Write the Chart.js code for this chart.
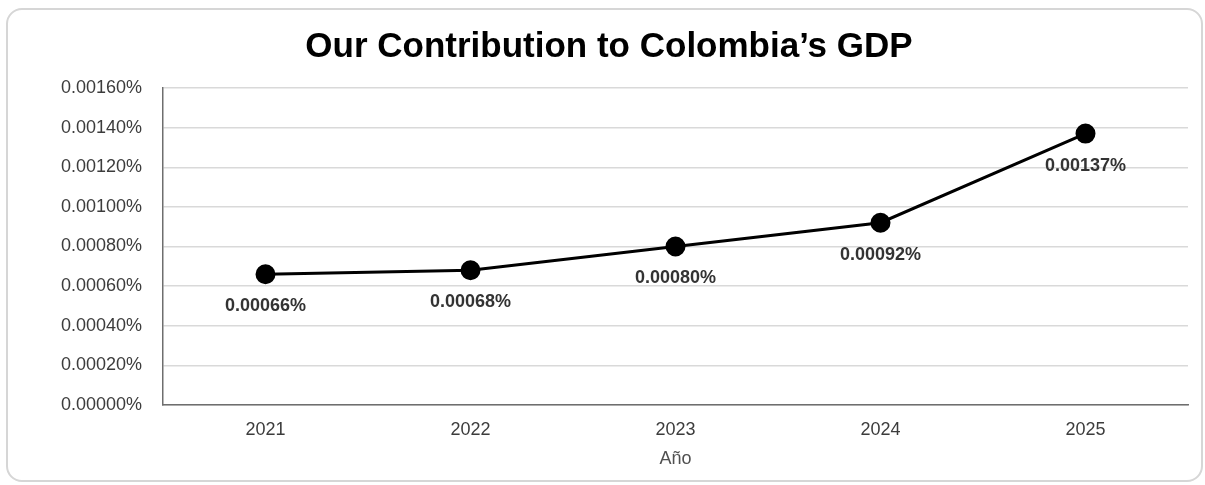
<!DOCTYPE html>
<html>
<head>
<meta charset="utf-8">
<script src="https://cdn.jsdelivr.net/npm/chart.js@4"></script>
<style>
  html, body { margin: 0; padding: 0; background: #ffffff; }
  #wrap { position: relative; width: 1205px; height: 485px; overflow: hidden; }
  #card { position: absolute; left: 6px; top: 8px; width: 1197px; height: 474px; box-sizing: border-box;
          border: 2px solid #d6d6d6; border-radius: 16px; background: #fff; }
  #c { position: absolute; left: 0; top: 0; }
</style>
</head>
<body>
<div id="wrap">
  <div id="card"></div>
  <canvas id="c" width="1205" height="485"></canvas>
</div>
<script>
const titleText = "Our Contribution to Colombia’s GDP";
const xAxisTitle = "Año";
const years = ["2021", "2022", "2023", "2024", "2025"];
const gdpShare = [0.00066, 0.00068, 0.00080, 0.00092, 0.00137];
const dataLabels = ["0.00066%", "0.00068%", "0.00080%", "0.00092%", "0.00137%"];
const yTickValues = [0, 0.0002, 0.0004, 0.0006, 0.0008, 0.0010, 0.0012, 0.0014, 0.0016];

const labelPlugin = {
  id: 'valueLabels',
  afterDatasetsDraw(chart) {
    const ctx = chart.ctx;
    const meta = chart.getDatasetMeta(0);
    ctx.save();
    ctx.font = 'bold 18px "Liberation Sans", Arial, sans-serif';
    ctx.fillStyle = '#333333';
    ctx.textAlign = 'center';
    ctx.textBaseline = 'middle';
    meta.data.forEach((pt, i) => {
      ctx.fillText(dataLabels[i], pt.x, pt.y + 32);
    });
    ctx.restore();
  }
};

new Chart(document.getElementById('c'), {
  type: 'line',
  data: {
    labels: years,
    datasets: [{
      data: gdpShare,
      borderColor: '#000000',
      backgroundColor: '#000000',
      borderWidth: 3,
      pointRadius: 8.5,
      pointHoverRadius: 8.5,
      pointBackgroundColor: '#000000',
      pointBorderColor: '#000000',
      tension: 0,
      fill: false
    }]
  },
  options: {
    responsive: false,
    animation: false,
    layout: { padding: { left: 30, right: 17, top: 0, bottom: 0 } },
    plugins: {
      legend: { display: false },
      tooltip: { enabled: false },
      title: {
        display: true,
        text: titleText,
        color: '#000000',
        font: { family: '"Liberation Sans", Arial, sans-serif', size: 35, weight: 'bold' },
        padding: { top: 26, bottom: 20 }
      }
    },
    scales: {
      x: {
        offset: true,
        grid: { display: false, drawTicks: false },
        border: { display: true, color: '#6e6e6e', width: 1.5 },
        ticks: { color: '#3c3c3c', font: { family: '"Liberation Sans", Arial, sans-serif', size: 18 }, padding: 14 },
        title: {
          display: true, text: xAxisTitle, color: '#505050',
          font: { family: '"Liberation Sans", Arial, sans-serif', size: 18 },
          padding: { top: 0, bottom: 15 }
        },
        afterFit(scale) { scale.height = 80; }
      },
      y: {
        min: 0, max: 0.0016,
        afterBuildTicks(scale) { scale.ticks = yTickValues.map(v => ({ value: v })); },
        grid: { color: '#d9d9d9', lineWidth: 1.5, drawTicks: false },
        border: { display: true, color: '#6e6e6e', width: 1.5 },
        ticks: {
          color: '#3c3c3c',
          font: { family: '"Liberation Sans", Arial, sans-serif', size: 18 },
          padding: 21,
          callback: (v) => Number(v).toFixed(5) + '%'
        },
        afterFit(scale) { scale.width = 133; }
      }
    }
  },
  plugins: [labelPlugin]
});
</script>
</body>
</html>
